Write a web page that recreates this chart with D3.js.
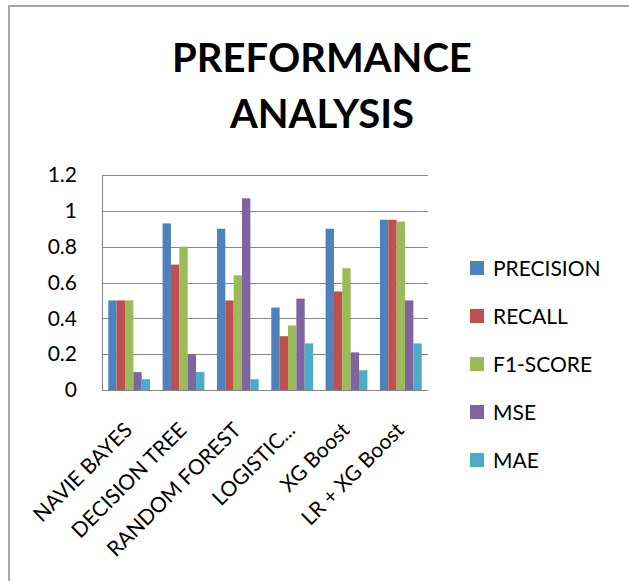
<!DOCTYPE html>
<html lang="en">
<head>
<meta charset="utf-8">
<script src="https://d3js.org/d3.v7.min.js"></script>
<style>
  body { margin: 0; background: #fff; }
  text { font-family: Lato, "Open Sans", sans-serif; }
</style>
</head>
<body>
<script>
// chart data
var categories = ["NAVIE BAYES", "DECISION TREE", "RANDOM FOREST", "LOGISTIC...", "XG Boost", "LR + XG Boost"];
var seriesNames = ["PRECISION", "RECALL", "F1-SCORE", "MSE", "MAE"];
var precision = [0.50, 0.93, 0.90, 0.46, 0.90, 0.95];
var recall    = [0.50, 0.70, 0.50, 0.30, 0.55, 0.95];
var f1score   = [0.50, 0.80, 0.64, 0.36, 0.68, 0.94];
var mse       = [0.10, 0.20, 1.07, 0.51, 0.21, 0.50];
var mae       = [0.06, 0.10, 0.06, 0.26, 0.11, 0.26];
var yTicks = [0, 0.2, 0.4, 0.6, 0.8, 1, 1.2];
var colours = ["#4F81BD", "#C0504D", "#9BBB59", "#8064A2", "#4BACC6"];

var seriesValues = [precision, recall, f1score, mse, mae];

var width = 629, height = 581;
var plot = {left: 102, right: 428, top: 175, bottom: 390};

var svg = d3.select("body").append("svg")
            .attr("width", width)
            .attr("height", height);

svg.append("rect")
   .attr("x", 0).attr("y", 0)
   .attr("width", width).attr("height", height)
   .attr("fill", "#fff");

// outer chart frame
svg.append("path")
   .attr("d", "M9," + height + "V6H" + width)
   .attr("fill", "none")
   .attr("stroke", "#a6a6a6")
   .attr("stroke-width", 2);

// title
var title = svg.append("text")
   .attr("text-anchor", "middle")
   .attr("font-size", 40)
   .attr("font-weight", "bold")
   .attr("fill", "#000");
title.append("tspan").attr("x", 322).attr("y", 72).text("PREFORMANCE");
title.append("tspan").attr("x", 322).attr("y", 128).text("ANALYSIS");

// scales
var x0 = d3.scaleBand()
   .domain(categories)
   .range([plot.left, plot.right])
   .paddingInner(1.5 / 6.5)
   .paddingOuter(0.75 / 6.5);

var x1 = d3.scaleBand()
   .domain(seriesNames)
   .range([0, x0.bandwidth()]);

var y = d3.scaleLinear()
   .domain([0, 1.2])
   .range([plot.bottom, plot.top]);

// gridlines
svg.append("g")
   .selectAll("line")
   .data(yTicks)
   .join("line")
   .attr("x1", plot.left).attr("x2", plot.right)
   .attr("y1", function(d) { return Math.round(y(d)) + 0.5; })
   .attr("y2", function(d) { return Math.round(y(d)) + 0.5; })
   .attr("stroke", "#868686")
   .attr("stroke-width", 1);

// bars
var groups = svg.append("g")
   .selectAll("g")
   .data(categories)
   .join("g")
   .attr("transform", function(d) { return "translate(" + x0(d) + ",0)"; });

groups.selectAll("rect")
   .data(function(d, i) {
       return seriesNames.map(function(s, j) { return {s: s, v: seriesValues[j][i], c: colours[j]}; });
   })
   .join("rect")
   .attr("x", function(d) { return x1(d.s); })
   .attr("width", x1.bandwidth())
   .attr("y", function(d) { return y(d.v); })
   .attr("height", function(d) { return y(0) - y(d.v); })
   .attr("fill", function(d) { return d.c; });

// y axis
var yAxis = svg.append("g")
   .attr("transform", "translate(" + plot.left + ",0)")
   .call(d3.axisLeft(y).tickValues(yTicks).tickSize(0).tickPadding(25)
         .tickFormat(function(d) { return String(d); }));
yAxis.select(".domain").attr("stroke", "#868686");
yAxis.selectAll("text")
   .attr("font-size", 21)
   .attr("font-family", "Lato, sans-serif")
   .attr("fill", "#000");

// x axis line
svg.append("line")
   .attr("x1", plot.left).attr("x2", plot.right)
   .attr("y1", plot.bottom + 0.5).attr("y2", plot.bottom + 0.5)
   .attr("stroke", "#868686");

// category labels
svg.append("g")
   .selectAll("text")
   .data(categories)
   .join("text")
   .attr("transform", function(d) {
       return "translate(" + (x0(d) + x0.bandwidth() / 2 - 6) + "," + (plot.bottom + 31) + ") rotate(-45)";
   })
   .attr("text-anchor", "end")
   .attr("dy", "0.7em")
   .attr("font-size", 21)
   .attr("fill", "#000")
   .text(function(d) { return d; });

// legend
var legend = svg.append("g")
   .selectAll("g")
   .data(seriesNames)
   .join("g")
   .attr("transform", function(d, i) { return "translate(470," + (268 + i * 48) + ")"; });

legend.append("rect")
   .attr("x", 0).attr("y", -7)
   .attr("width", 14).attr("height", 14)
   .attr("fill", function(d, i) { return colours[i]; });

legend.append("text")
   .attr("x", 23)
   .attr("dy", "0.36em")
   .attr("font-size", 21)
   .attr("fill", "#000")
   .text(function(d) { return d; });
</script>
</body>
</html>
